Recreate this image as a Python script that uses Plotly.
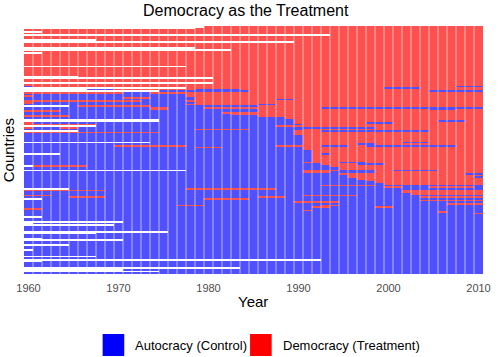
import plotly.graph_objects as go

# ---- data ----
years = list(range(1960, 2011))
tick_years = [1960, 1970, 1980, 1990, 2000, 2010]
status_labels = ["Autocracy (Control)", "Democracy (Treatment)"]

# One string per country (top to bottom). Each token "YYS": from year YY on,
# status S (A = autocracy, D = democracy, N = missing). Years before the
# first token are missing. YY >= 50 -> 19YY, otherwise 20YY.
country_spells = [
    "80D", "79D", "60D", "62D", "60D", "94D", "60D", "60D", "68D", "90D",
    "60D", "60D", "60D", "79D", "83D", "60D", "62D", "60D", "60D", "60D",
    "60D", "60D", "60D", "60D", "78D", "60D", "60D", "60D", "60D", "60D",
    "66D", "81D", "60D", "60D", "81D", "60D",
    "60A 61D 08A", "78D 00A 04D", "67A 70D 79A 84D", "75A 85D 05A",
    "60D 71A 74D", "60A 78D", "60D 61A 78D", "60A 71D 74A 79D",
    "60A 79D 88A 90D", "60D 73A 78D", "60D 61A 79D", "60A 78D 86A 88D",
    "65A 66D 74A 86D", "60A 74D 76A 80D 93A", "60A 74D 76A 86D 05A 08D",
    "60D 64A 86D", "60A 82D", "60A 83D", "60D 65A 86D", "60A 89D",
    "75A 90D", "75A 90D 06A 09D", "60D 61A 90D 98A 01D", "60D 68A 91D",
    "68A 88D", "60D 61A 64D 66A 99D", "60A 79D 85A 91D", "66A 90D 93A 05D",
    "60D 75A 90D", "60A 90D", "60A 91D", "60A 91D", "60A 91D", "60A 91D",
    "74A 91D 02A 05D", "60A 91D 97A 99D", "60A 70D 78A 88D 93A 96D 98A 08D",
    "60A 79D 82A 91D", "60A 91D", "60A 92D", "60A 92D", "64A 92D 93A 94D",
    "60A 92D", "60A 92D", "60A 92D", "60A 92D", "60A 91D 95A 98D",
    "60A 93D 97A 00D", "61D 67A 94D", "60A 95D", "60A 95D",
    "78A 91D 95A 99D 01A 06D", "60A 91D 94A 99D", "60A 95D 09A", "60A 96D",
    "60A 96D 10A", "60A 97D", "60A 98D", "60A 99D", "60A 00D", "60A 93D 99A",
    "60A 00D 02A 05D 10A", "65A 78D 88A", "60D 69A 02D", "60A 02D", "60A 03D",
    "60D 63A 91D 97A", "60A 65D 69A 86D 89A 04D", "62A 80D 85A", "60A 04D",
    "60A 90D 95A", "60A 07D", "60A 77D 80A 93D 95A", "60A 92D 94A 99D 01A",
    "60D 62A", "60A 91D 92A", "60A 06D 07A", "60A 10D",
    "60A", "62A", "60A", "60A", "71A", "61A", "70A", "60A", "60A", "60A",
    "76A", "68A", "60A", "60A", "62A", "71A", "60A", "60A", "65A", "60A",
    "60A", "61A", "60A", "60A", "60A", "68A", "60A", "93A", "62A", "60A",
    "60A", "60A", "84A", "71A", "75A", "60A",
]

# ---- build the unit x year matrix ----
state_value = {"A": 0, "D": 1, "N": None}


def tok_year(tok):
    yy = int(tok[:-1])
    return 1900 + yy if yy >= 50 else 2000 + yy


z = []
for spell in country_spells:
    toks = [(tok_year(t), state_value[t[-1]]) for t in spell.split()]
    row = []
    for yr in years:
        val = None
        for start, v in toks:
            if yr >= start:
                val = v
        row.append(val)
    z.append(row)

units = list(range(len(country_spells)))

BLUE_CELL = "rgb(80,80,255)"
RED_CELL = "rgb(255,80,80)"

fig = go.Figure()
fig.add_trace(go.Heatmap(
    x=years, y=units, z=z,
    zmin=0, zmax=1,
    colorscale=[[0, BLUE_CELL], [0.5, BLUE_CELL], [0.5, RED_CELL], [1, RED_CELL]],
    showscale=False, xgap=0, ygap=0, hoverongaps=False,
    hovertemplate="%{x}<extra></extra>",
))

# soft white separators between the yearly tiles
for yr in years[:-1]:
    fig.add_shape(type="line", xref="x", yref="paper",
                  x0=yr + 0.5, x1=yr + 0.5, y0=0, y1=1,
                  line=dict(color="rgba(255,255,255,0.6)", width=1),
                  layer="above")

FONT = "Liberation Sans, Arial, sans-serif"
W, H = 500, 357
ML, MR, MT, MB = 24, 9, 26, 83
PW, PH = W - ML - MR, H - MT - MB


def px_x(px):
    return (px - ML) / PW


def px_y(py):
    return (H - MB - py) / PH


fig.update_layout(
    width=W, height=H,
    margin=dict(l=ML, r=MR, t=MT, b=MB),
    paper_bgcolor="white", plot_bgcolor="white",
    font=dict(family=FONT, color="black"),
    showlegend=False,
    xaxis=dict(
        range=[1959.5, 2010.5], tickvals=tick_years,
        ticks="outside", ticklen=4, tickcolor="rgba(0,0,0,0)",
        tickfont=dict(size=11, color="#4d4d4d", family=FONT),
        showgrid=False, zeroline=False, showline=False, fixedrange=True,
    ),
    yaxis=dict(
        autorange="reversed", showticklabels=False, ticks="",
        showgrid=False, zeroline=False, showline=False, fixedrange=True,
    ),
)

annotations = [
    dict(text="Democracy as the Treatment", x=px_x(250), y=px_y(11),
         font=dict(size=16)),
    dict(text="Year", x=px_x(257), y=px_y(301), font=dict(size=15)),
    dict(text="Countries", x=px_x(8), y=px_y(150), textangle=-90,
         font=dict(size=15)),
]
for a in annotations:
    a.update(xref="paper", yref="paper", showarrow=False,
             xanchor="center", yanchor="middle")

legend_items = [
    (status_labels[0], "rgb(0,0,255)", 104),
    (status_labels[1], "rgb(255,0,0)", 254),
]
for label, col, x0 in legend_items:
    fig.add_shape(type="rect", xref="paper", yref="paper",
                  x0=px_x(x0), x1=px_x(x0 + 22), y0=px_y(356), y1=px_y(334),
                  fillcolor=col, line=dict(width=0))
    annotations.append(dict(text=label, xref="paper", yref="paper",
                            x=px_x(x0 + 31), y=px_y(345), showarrow=False,
                            xanchor="left", yanchor="middle",
                            font=dict(size=13)))

fig.update_layout(annotations=annotations)
fig.write_html(
    "out.html",
    config={"displayModeBar": False},
    post_script="document.body.style.margin='0';document.body.style.padding='0';",
)
